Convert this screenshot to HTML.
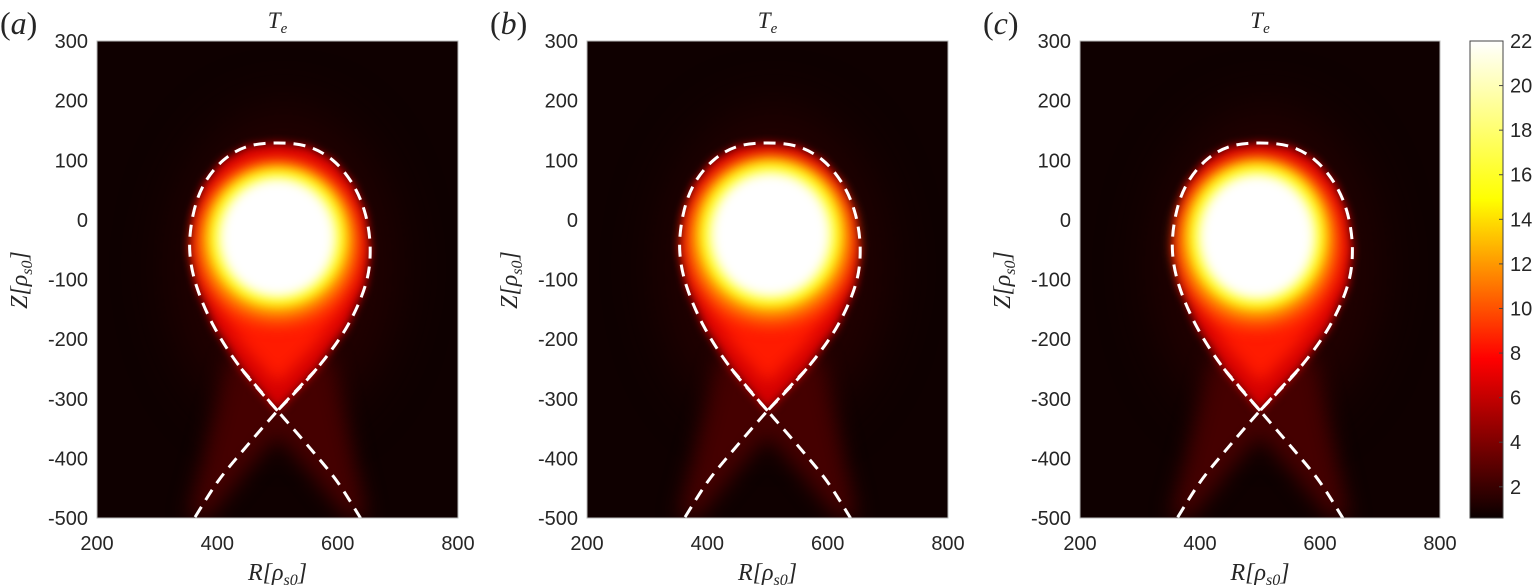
<!DOCTYPE html>
<html><head><meta charset="utf-8">
<style>
html,body{margin:0;padding:0;background:#fff;}
#wrap{position:relative;width:1533px;height:587px;overflow:hidden;}
canvas,svg{position:absolute;left:0;top:0;}
</style></head>
<body>
<div id="wrap">
<canvas id="cv" width="1533" height="587"></canvas>
<svg id="sv" width="1533" height="587"></svg>
</div>
<script>
// ---- data ----
const xTicks=[200,400,600,800];
const yTicks=[300,200,100,0,-100,-200,-300,-400,-500];
const cbTicks=[2,4,6,8,10,12,14,16,18,20,22];
const cbMin=0.6, cbMax=22;
const panelLabels=["(a)","(b)","(c)"];
// separatrix upper loop (R,Z)
const sepR=[500,440,395,365,354,360,378,410,450,500,550,592,625,646,654,646,615,565,500];
const sepZ=[-320,-250,-180,-110,-50,10,60,100,123,129,123,100,60,10,-50,-110,-180,-250,-320];
// divertor legs
const legAR=[440,500,560,600,638];
const legAZ=[-250,-320,-390,-440,-500];
const legBR=[565,500,440,400,362];
const legBZ=[-250,-320,-390,-440,-500];
// core temperature blob per panel: center R, center Z, radius R, radius Z
const coreR=[500,505,495];
const coreZ=[-30,-25,-28];
const coreRadR=[92,95,92];
const coreRadZ=[95,100,100];
// --------------
const panels=[{x0:97,x1:458},{x0:587,x1:948},{x0:1080,x1:1440}];
const plotTop=41,plotBot=518;
const SANS='font-family:"Liberation Sans",sans-serif;fill:#262626;';
const SERIF='font-family:"Liberation Serif",serif;fill:#262626;';
function xs(p,R){return p.x0+(R-200)/600*(p.x1-p.x0);}
function ys(Z){return plotTop+(300-Z)/800*(plotBot-plotTop);}
function hot(v){let t=(v-cbMin)/(cbMax-cbMin);t=Math.max(0,Math.min(1,t));
 let r,g,b;r=Math.min(1,t*3);g=Math.max(0,Math.min(1,t*3-1));b=Math.max(0,Math.min(1,t*3-2));
 r=0.04+0.96*r;return `rgb(${Math.round(r*255)},${Math.round(g*255)},${Math.round(b*255)})`;}
const cv=document.getElementById('cv'),ctx=cv.getContext('2d');
const sv=document.getElementById('sv');const NS='http://www.w3.org/2000/svg';
function mk(tag,attrs,parent){const e=document.createElementNS(NS,tag);for(const k in attrs)e.setAttribute(k,attrs[k]);(parent||sv).appendChild(e);return e;}
function ell(p,R,Z,rr,rz,col,bl){ctx.save();ctx.filter=`blur(${bl}px)`;ctx.fillStyle=col;ctx.beginPath();
 const sx=(p.x1-p.x0)/600,sy=(plotBot-plotTop)/800;ctx.ellipse(xs(p,R),ys(Z),rr*sx,rz*sy,0,0,Math.PI*2);ctx.fill();ctx.restore();}
function polyPath(p,Rs,Zs){ctx.beginPath();Rs.forEach((r,i)=>{const X=xs(p,r),Y=ys(Zs[i]);i?ctx.lineTo(X,Y):ctx.moveTo(X,Y);});}
function smoothD(pts){let d='M'+pts[0][0].toFixed(1)+','+pts[0][1].toFixed(1);
 for(let i=0;i<pts.length-1;i++){const p0=pts[Math.max(0,i-1)],p1=pts[i],p2=pts[i+1],p3=pts[Math.min(pts.length-1,i+2)];
  const c1=[p1[0]+(p2[0]-p0[0])/6,p1[1]+(p2[1]-p0[1])/6],c2=[p2[0]-(p3[0]-p1[0])/6,p2[1]-(p3[1]-p1[1])/6];
  d+=` C${c1[0].toFixed(1)},${c1[1].toFixed(1)} ${c2[0].toFixed(1)},${c2[1].toFixed(1)} ${p2[0].toFixed(1)},${p2[1].toFixed(1)}`;}
 return d;}
panels.forEach((p,i)=>{
 ctx.save();ctx.beginPath();ctx.rect(p.x0,plotTop,p.x1-p.x0,plotBot-plotTop);ctx.clip();
 ctx.fillStyle=hot(0.75);ctx.fillRect(p.x0,plotTop,p.x1-p.x0,plotBot-plotTop);
 ell(p,510,-80,190,270,hot(1.3),25);
 ctx.save();ctx.filter='blur(10px)';ctx.fillStyle=hot(2.3);
 ctx.beginPath();ctx.moveTo(xs(p,420),ys(-230));ctx.lineTo(xs(p,590),ys(-230));ctx.lineTo(xs(p,650),ys(-500));ctx.lineTo(xs(p,615),ys(-500));ctx.lineTo(xs(p,500),ys(-360));ctx.lineTo(xs(p,385),ys(-500));ctx.lineTo(xs(p,350),ys(-500));ctx.closePath();ctx.fill();ctx.restore();
 ctx.save();ctx.filter='blur(5px)';ctx.fillStyle=hot(6.5);polyPath(p,sepR,sepZ);ctx.closePath();ctx.fill();ctx.restore();
 ctx.save();ctx.filter='blur(8px)';ctx.fillStyle=hot(8.5);polyPath(p,sepR.map(r=>500+(r-500)*0.9),sepZ.map(z=>-20+(z+20)*0.85));ctx.closePath();ctx.fill();ctx.restore();
 const cR=coreR[i],cZ=coreZ[i],rR=coreRadR[i],rZ=coreRadZ[i];
 ell(p,cR,cZ-10,rR*1.45,rZ*1.4,hot(11),8);
 ell(p,cR,cZ,rR*1.27,rZ*1.25,hot(15),7);
 ell(p,cR,cZ,rR*1.12,rZ*1.1,hot(19),6);
 ell(p,cR,cZ,rR,rZ,hot(22),5);
 ctx.restore();
});
panels.forEach((p,i)=>{
 const g=mk('g',{});
 
 
 const seg=[[sepR,sepZ],[legAR,legAZ],[legBR,legBZ]];
 seg.forEach(([Rs,Zs],k)=>{const d=smoothD(Rs.map((r,j)=>[xs(p,r),ys(Zs[j])]));
  const pth=mk('path',{d:d,fill:'none',stroke:'#fff','stroke-width':3,'stroke-dasharray':'12 8'},g);
  
  });
 const fr=mk('rect',{x:p.x0,y:plotTop,width:p.x1-p.x0,height:plotBot-plotTop,fill:'none',stroke:'#bbb','stroke-width':1},g);
 
 
 xTicks.forEach(v=>{const t=mk('text',{x:xs(p,v),y:550,'text-anchor':'middle',style:SANS+'font-size:20px'},g);t.textContent=v;
  
  });
 yTicks.forEach(v=>{const t=mk('text',{x:p.x0-9,y:ys(v)+7,'text-anchor':'end',style:SANS+'font-size:20px'},g);t.textContent=v;
  
  });
 const cx=(p.x0+p.x1)/2;
 const ti=mk('text',{x:cx,y:28,'text-anchor':'middle',style:SERIF+'font-size:23px;font-style:italic'},g);ti.innerHTML='T<tspan style="font-size:15px" dy="5">e</tspan>';
 
 
 const xl=mk('text',{x:cx,y:580,'text-anchor':'middle',style:SERIF+'font-size:24px;font-style:italic'},g);xl.innerHTML='R[ρ<tspan style="font-size:16px" dy="5">s0</tspan><tspan dy="-5">]</tspan>';
 
 
 const yx=p.x0-70;
 const yl=mk('text',{x:yx,y:280,'text-anchor':'middle',style:SERIF+'font-size:24px;font-style:italic',transform:`rotate(-90 ${yx} 280)`},g);yl.innerHTML='Z[ρ<tspan style="font-size:16px" dy="5">s0</tspan><tspan dy="-5">]</tspan>';
 
 
 const pl=mk('text',{x:p.x0-97,y:34,style:SERIF+'font-size:32px'},g);pl.innerHTML='(<tspan style="font-style:italic">'+'abc'[i]+'</tspan>)';
 
 
});
const cbx0=1470,cbx1=1503;
const grd=ctx.createLinearGradient(0,plotBot,0,plotTop);
for(let k=0;k<=30;k++){const v=cbMin+(cbMax-cbMin)*k/30;grd.addColorStop(k/30,hot(v));}
ctx.fillStyle=grd;ctx.fillRect(cbx0,plotTop,cbx1-cbx0,plotBot-plotTop);
const cb=mk('g',{});


mk('rect',{x:cbx0,y:plotTop,width:cbx1-cbx0,height:plotBot-plotTop,fill:'none',stroke:'#444','stroke-width':1},cb);
function cy(v){return plotBot-(v-cbMin)/(cbMax-cbMin)*(plotBot-plotTop);}
cbTicks.forEach(v=>{mk('line',{x1:cbx1-4,x2:cbx1,y1:cy(v),y2:cy(v),stroke:'#444'},cb);
 const t=mk('text',{x:1510,y:cy(v)+7,style:SANS+'font-size:20px'},cb);t.textContent=v;
 
 });
</script>
</body></html>
